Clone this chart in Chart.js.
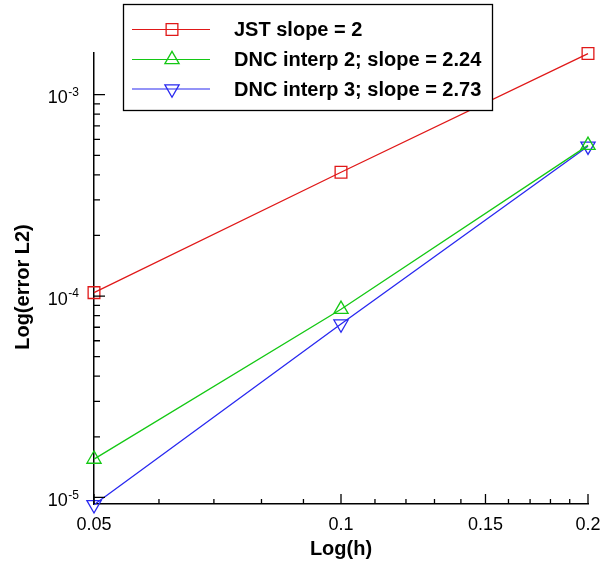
<!DOCTYPE html>
<html>
<head>
<meta charset="utf-8">
<script src="https://cdn.jsdelivr.net/npm/chart.js@4.4.1/dist/chart.umd.min.js"></script>
<style>
  html, body { margin: 0; padding: 0; background: #fff; }
  canvas { display: block; }
</style>
</head>
<body>
<canvas id="errChart" width="600" height="565"></canvas>
<script>
// mesh sizes and errors
const hValues = [0.05, 0.1, 0.2];
const jstError = [1.04e-4, 4.12e-4, 1.6e-3];
const dnc2Error = [1.55e-5, 8.6e-5, 5.6e-4];
const dnc3Error = [9.2e-6, 7.26e-5, 5.55e-4];
const seriesNames = ["JST slope = 2", "DNC interp 2; slope = 2.24", "DNC interp 3; slope = 2.73"];
const seriesColors = ["#e01818", "#14c814", "#2828f0"];

// ticks
const xMajorTicks = [0.05, 0.1, 0.15, 0.2];
const xTickLabels = ["0.05", "0.1", "0.15", "0.2"];
const xMinorTicks = [0.06, 0.07, 0.08, 0.09, 0.11, 0.12, 0.13, 0.14, 0.16, 0.17, 0.18, 0.19];
const yExponents = [-5, -4, -3];
const yMinorMantissas = [2, 3, 4, 5, 6, 7, 8, 9];

const FONT = "'Liberation Sans', Arial, Helvetica, sans-serif";

function toPoints(ys) {
  return hValues.map((h, i) => ({ x: h, y: ys[i] }));
}

// axes ticks (inward), tick labels, axis titles and the boxed legend
const decorPlugin = {
  id: "decor",
  afterDraw(chart) {
    const ctx = chart.ctx;
    const area = chart.chartArea;
    const xs = chart.scales.x;
    const ys = chart.scales.y;
    ctx.save();
    ctx.strokeStyle = "#000";
    ctx.lineWidth = 1.3;

    // x ticks
    ctx.beginPath();
    xMajorTicks.forEach((v) => {
      const px = xs.getPixelForValue(v);
      ctx.moveTo(px, area.bottom);
      ctx.lineTo(px, area.bottom - 10);
    });
    xMinorTicks.forEach((v) => {
      const px = xs.getPixelForValue(v);
      ctx.moveTo(px, area.bottom);
      ctx.lineTo(px, area.bottom - 5);
    });
    // y ticks
    yExponents.forEach((e) => {
      const py = ys.getPixelForValue(Math.pow(10, e));
      ctx.moveTo(area.left, py);
      ctx.lineTo(area.left + 11, py);
      yMinorMantissas.forEach((m) => {
        const v = m * Math.pow(10, e);
        if (v > ys.max) return;
        const p = ys.getPixelForValue(v);
        ctx.moveTo(area.left, p);
        ctx.lineTo(area.left + 6, p);
      });
    });
    ctx.stroke();

    // x tick labels
    ctx.fillStyle = "#000";
    ctx.font = "18px " + FONT;
    ctx.textAlign = "center";
    ctx.textBaseline = "alphabetic";
    xMajorTicks.forEach((v, i) => {
      ctx.fillText(xTickLabels[i], xs.getPixelForValue(v), 530);
    });

    // y tick labels 10^e
    yExponents.forEach((e) => {
      const py = ys.getPixelForValue(Math.pow(10, e));
      const sup = String(e);
      ctx.font = "12px " + FONT;
      const supW = ctx.measureText(sup).width;
      ctx.font = "18px " + FONT;
      const baseW = ctx.measureText("10").width;
      const right = 79;
      ctx.textAlign = "left";
      ctx.fillText("10", right - supW - baseW - 0.5, py + 8.7);
      ctx.font = "12px " + FONT;
      ctx.fillText(sup, right - supW, py + 1.3);
    });

    // axis titles
    ctx.font = "bold 20px " + FONT;
    ctx.textAlign = "center";
    ctx.fillText("Log(h)", (area.left + area.right) / 2, 555);
    ctx.save();
    ctx.translate(28.5, 287);
    ctx.rotate(-Math.PI / 2);
    ctx.fillText("Log(error L2)", 0, 0);
    ctx.restore();

    // legend
    const box = { x: 123.5, y: 4.5, w: 369, h: 106 };
    ctx.fillStyle = "#fff";
    ctx.fillRect(box.x, box.y, box.w, box.h);
    ctx.lineWidth = 1.3;
    ctx.strokeStyle = "#000";
    ctx.strokeRect(box.x, box.y, box.w, box.h);
    const rows = [29.5, 59.5, 89];
    chart.data.datasets.forEach((ds, i) => {
      const y = rows[i];
      ctx.strokeStyle = ds.borderColor;
      ctx.lineWidth = 1.2;
      ctx.beginPath();
      ctx.moveTo(132, y);
      ctx.lineTo(210, y);
      ctx.stroke();
      ctx.fillStyle = "rgba(0,0,0,0)";
      ctx.lineWidth = ds.pointBorderWidth;
      Chart.helpers.drawPoint(ctx, {
        pointStyle: ds.pointStyle,
        rotation: ds.pointRotation || 0,
        radius: ds.pointRadius,
        borderWidth: ds.pointBorderWidth,
      }, 172, y);
      ctx.fillStyle = "#000";
      ctx.font = "bold 20px " + FONT;
      ctx.textAlign = "left";
      ctx.textBaseline = "middle";
      ctx.fillText(ds.label, 234, y + 1);
    });
    ctx.restore();
  },
};

function makeSet(i, ys, style, rot, radius) {
  return {
    label: seriesNames[i],
    data: toPoints(ys),
    borderColor: seriesColors[i],
    backgroundColor: "rgba(0,0,0,0)",
    borderWidth: 1.3,
    pointStyle: style,
    pointRotation: rot,
    pointRadius: radius,
    pointHoverRadius: radius,
    pointBorderWidth: 1.3,
    pointBorderColor: seriesColors[i],
    pointBackgroundColor: "rgba(0,0,0,0)",
    tension: 0,
    clip: false,
  };
}

new Chart(document.getElementById("errChart"), {
  type: "line",
  data: {
    datasets: [
      makeSet(0, jstError, "rect", 0, 8.3),
      makeSet(1, dnc2Error, "triangle", 0, 8.2),
      makeSet(2, dnc3Error, "triangle", 180, 8.2),
    ],
  },
  options: {
    responsive: false,
    animation: false,
    devicePixelRatio: 1,
    layout: { padding: { left: 94, right: 12, top: 53, bottom: 61 } },
    plugins: { legend: { display: false }, tooltip: { enabled: false } },
    scales: {
      x: {
        type: "logarithmic",
        min: 0.05,
        max: 0.2,
        ticks: { display: false },
        grid: { display: false, drawTicks: false },
        border: { display: true, color: "#000", width: 1.5 },
      },
      y: {
        type: "logarithmic",
        min: 9.28e-6,
        max: 1.61e-3,
        ticks: { display: false },
        grid: { display: false, drawTicks: false },
        border: { display: true, color: "#000", width: 1.5 },
      },
    },
  },
  plugins: [decorPlugin],
});
</script>
</body>
</html>
